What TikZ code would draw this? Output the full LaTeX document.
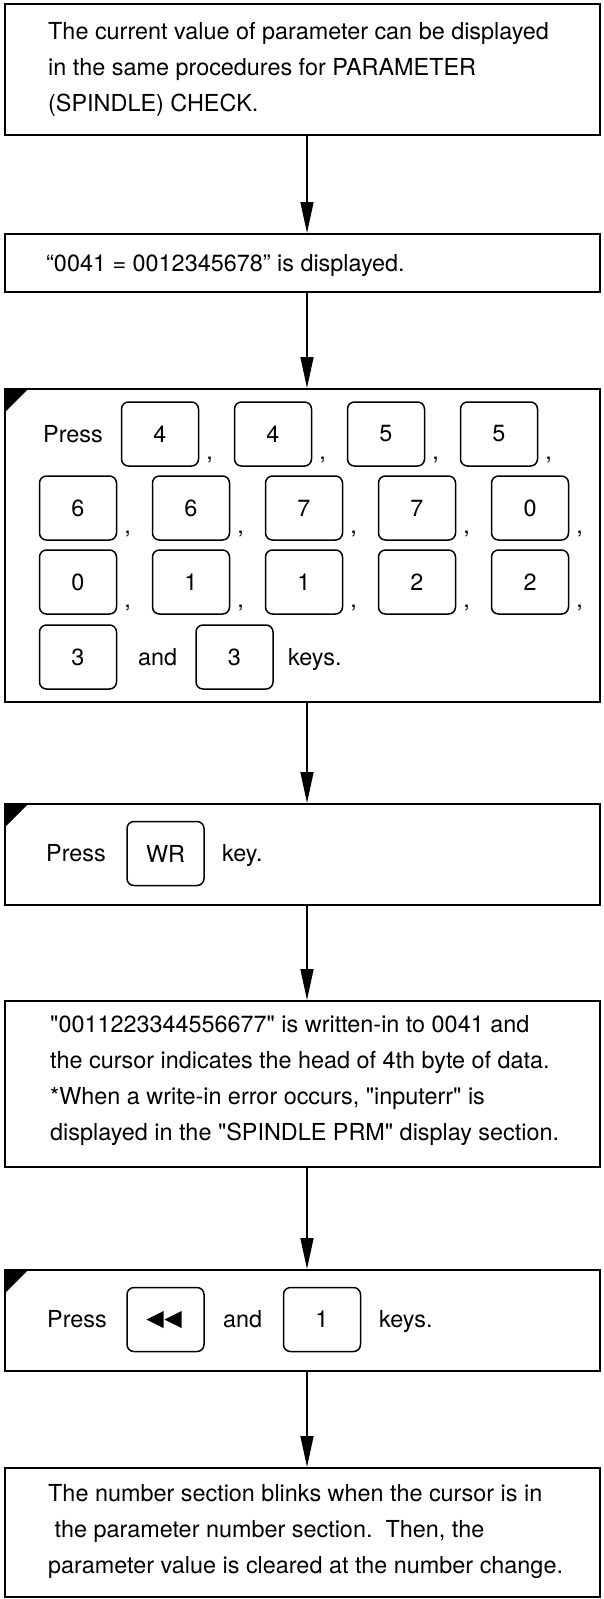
\documentclass[tikz,border=0pt]{standalone}
\usepackage{fontspec}
\setmainfont{TeX Gyre Heros}[Ligatures=TeXOff]
\usetikzlibrary{arrows.meta}
\begin{document}
\begin{tikzpicture}[x=1pt,y=-1pt,
  every node/.style={font=\fontsize{23.4}{36}\selectfont, inner sep=0pt},
  flowbox/.style={draw, line width=1.6pt, minimum width=595pt, anchor=north west},
  keybox/.style={draw, line width=1.5pt, rounded corners=7pt, minimum width=77pt, minimum height=64pt},
  txtline/.style={anchor=base west},
  paratext/.style={anchor=west, align=left},
  commanode/.style={anchor=base west},
  flowarrow/.style={line width=1.5pt, -{Triangle[length=31pt,width=13pt]}},
  cornermark/.style={fill=black}
]
\useasboundingbox (0,0) rectangle (603,1599);
\coordinate (ax) at (307,0);

% boxes
\node[flowbox, minimum height=131pt] (b1) at (4,3) {};
\node[flowbox, minimum height=58pt] (b2) at (4,233) {};
\node[flowbox, minimum height=313pt] (b3) at (4,388) {};
\node[flowbox, minimum height=101pt] (b4) at (4,803) {};
\node[flowbox, minimum height=166pt] (b5) at (4,1000) {};
\node[flowbox, minimum height=101pt] (b6) at (4,1269) {};
\node[flowbox, minimum height=129pt] (b7) at (4,1467) {};

% corner marks
\fill[cornermark] (b3.north west) -- ++(25,0) -- ++(-25,25) -- cycle;
\fill[cornermark] (b4.north west) -- ++(25,0) -- ++(-25,25) -- cycle;
\fill[cornermark] (b6.north west) -- ++(25,0) -- ++(-25,25) -- cycle;

% box 1 text
\node[paratext] (t1) at (48,69) {The current value of parameter can be displayed\\in the same procedures for PARAMETER\\(SPINDLE) CHECK.};
% box 2 text
\node[txtline] (t2) at (46,271) {“0041 = 0012345678” is displayed.};

% box 3 keys
\node[txtline] (p3) at (43,442.4) {Press};
\node[keybox] (k11) at (160,434) {4};
\node[keybox] (k12) at (273,434) {4};
\node[keybox] (k13) at (386,434) {5};
\node[keybox] (k14) at (499,434) {5};
\node[keybox] (k21) at (78,508) {6};
\node[keybox] (k22) at (191,508) {6};
\node[keybox] (k23) at (304,508) {7};
\node[keybox] (k24) at (417,508) {7};
\node[keybox] (k25) at (530,508) {0};
\node[keybox] (k31) at (78,582) {0};
\node[keybox] (k32) at (191,582) {1};
\node[keybox] (k33) at (304,582) {1};
\node[keybox] (k34) at (417,582) {2};
\node[keybox] (k35) at (530,582) {2};
\node[keybox] (k41) at (78,657) {3};
\node[txtline] (and3) at (138,665.4) {and};
\node[keybox] (k42) at (234.5,657) {3};
\node[txtline] (keys3) at (288,665.4) {keys.};
\foreach \k in {k11,k12,k13,k14,k21,k22,k23,k24,k25,k31,k32,k33,k34,k35}{
  \node[commanode] (c\k) at ([xshift=7pt,yshift=7pt]\k.south east) {,};
}

% box 4
\node[txtline] (p4) at (46,861.9) {Press};
\node[keybox] (kwr) at (165.5,853.5) {WR};
\node[txtline] (key4) at (222,861.9) {key.};

% box 5
\node[paratext] (t5) at (50,1081) {"0011223344556677" is written-in to 0041 and\\the cursor indicates the head of 4th byte of data.\\*When a write-in error occurs, "inputerr" is\\displayed in the "SPINDLE PRM" display section.};

% box 6
\node[txtline] (p6) at (47,1327.9) {Press};
\node[keybox] (kbk) at (165.5,1319.5) {};
\fill ([xshift=-19pt]kbk.center) -- ++(17,-8.5) -- ++(0,17) -- cycle;
\fill ([xshift=-1pt]kbk.center) -- ++(17,-8.5) -- ++(0,17) -- cycle;
\node[txtline] (and6) at (223,1327.9) {and};
\node[keybox] (k1b) at (322,1319.5) {1};
\node[txtline] (keys6) at (379,1327.9) {keys.};

% box 7
\node[paratext] (t7) at (48,1532) {The number section blinks when the cursor is in\\\hspace*{0.278em}the parameter number section.\ \ Then, the\\parameter value is cleared at the number change.};

% arrows
\draw[flowarrow] (ax |- b1.south) -- (ax |- b2.north);
\draw[flowarrow] (ax |- b2.south) -- (ax |- b3.north);
\draw[flowarrow] (ax |- b3.south) -- (ax |- b4.north);
\draw[flowarrow] (ax |- b4.south) -- (ax |- b5.north);
\draw[flowarrow] (ax |- b5.south) -- (ax |- b6.north);
\draw[flowarrow] (ax |- b6.south) -- (ax |- b7.north);
\end{tikzpicture}
\end{document}
